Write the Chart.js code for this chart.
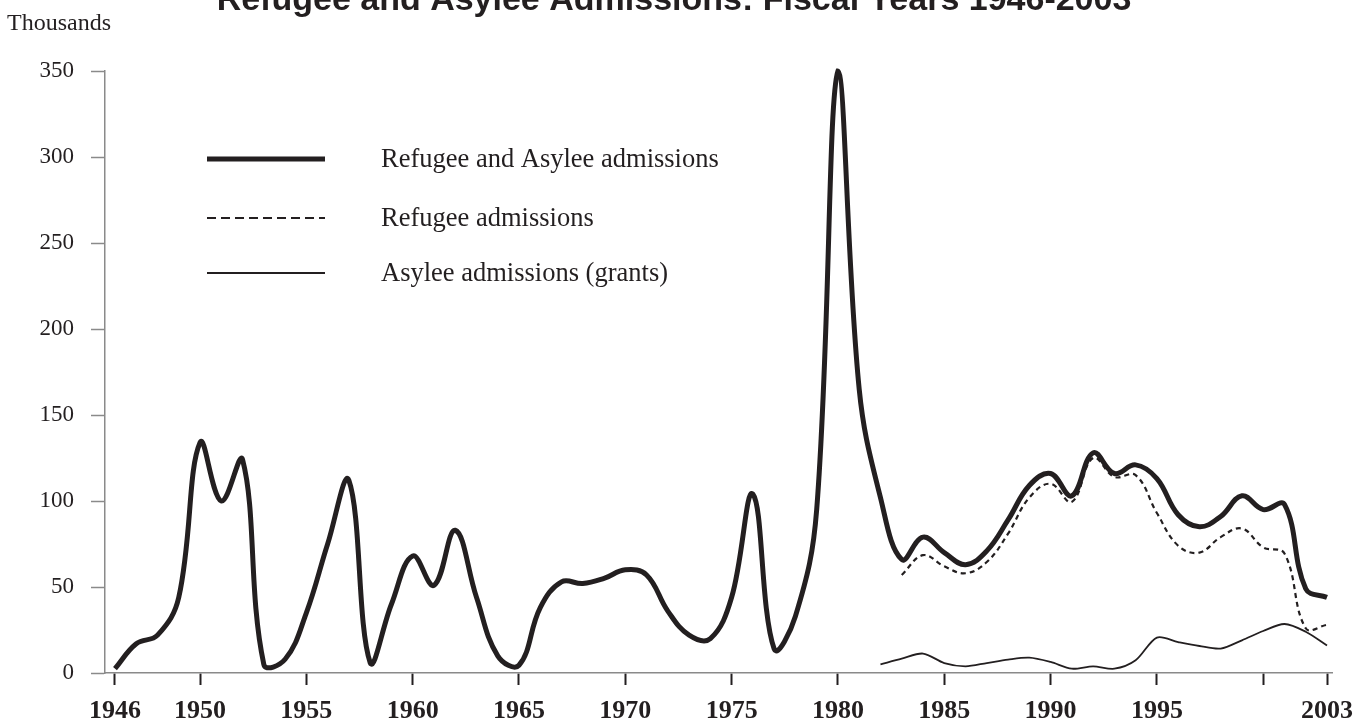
<!DOCTYPE html>
<html>
<head>
<meta charset="utf-8">
<script src="https://cdn.jsdelivr.net/npm/chart.js@4.4.1/dist/chart.umd.min.js"></script>
<style>
  html, body { margin: 0; padding: 0; background: #fff; }
  #chart { display: block; }
</style>
</head>
<body>
<canvas id="chart" width="1367" height="728"></canvas>
<script>
// Fiscal years on the x axis
const years = [
  1946, 1947, 1948, 1949, 1950, 1951, 1952, 1953, 1954, 1955,
  1956, 1957, 1958, 1959, 1960, 1961, 1962, 1963, 1964, 1965,
  1966, 1967, 1968, 1969, 1970, 1971, 1972, 1973, 1974, 1975,
  1976, 1977, 1978, 1979, 1980, 1981, 1982, 1983, 1984, 1985,
  1986, 1987, 1988, 1989, 1990, 1991, 1992, 1993, 1994, 1995,
  1996, 1997, 1998, 1999, 2000, 2001, 2002, 2003,
];

// Admissions in thousands
const totalAdmissions = [
  2.5, 17, 22, 44, 134, 100, 124, 5, 8, 35,
  75, 112, 6, 40, 68, 51, 83, 44, 10, 4.5,
  38, 53, 52, 55, 60, 57, 36, 22, 20, 44,
  104, 14, 33, 95, 350, 165, 102, 66, 79, 70,
  63, 71, 89, 109, 116, 103, 128, 116, 121, 113,
  92, 85, 91, 103, 95, 98, 49, 44,
];
const refugeeYears = [
  1983, 1984, 1985, 1986, 1987, 1988, 1989, 1990, 1991, 1992, 1993,
  1994, 1995, 1996, 1997, 1998, 1999, 2000, 2001, 2002, 2003,
];
const refugeeAdmissions = [
  57, 68.5, 62, 58, 64.5, 81, 102, 110, 99.5, 125, 114,
  115, 93, 74, 70, 79, 84, 73, 69.5, 26, 28,
];
const asyleeYears = [
  1982, 1983, 1984, 1985, 1986, 1987, 1988, 1989, 1990, 1991, 1992,
  1993, 1994, 1995, 1996, 1997, 1998, 1999, 2000, 2001, 2002, 2003,
];
const asyleeAdmissions = [
  5, 8.3, 11.3, 5.8, 3.9, 5.8, 7.8, 8.9, 6.4, 2.5, 3.9,
  2.5, 7.4, 20.6, 18, 15.7, 14.2, 19, 24.4, 28.5, 24, 16,
];

// Tick labels
const xTickYears = [1946, 1950, 1955, 1960, 1965, 1970, 1975, 1980, 1985, 1990, 1995, 2000, 2003];
const xTickLabels = ["1946", "1950", "1955", "1960", "1965", "1970", "1975", "1980", "1985", "1990", "1995", "", "2003"];
const yTicks = [0, 50, 100, 150, 200, 250, 300, 350];

const seriesNames = [
  "Refugee and Asylee admissions",
  "Refugee admissions",
  "Asylee admissions (grants)",
];

const ink = "#231f20";
const axisGray = "#8a8a8a";

const toPoints = (xs, ys) => xs.map((x, i) => ({ x: x, y: ys[i] }));

// Title, unit label and in-plot legend
const decorations = {
  id: "decorations",
  afterDraw(chart) {
    const ctx = chart.ctx;
    ctx.save();
    ctx.fillStyle = ink;
    ctx.textBaseline = "alphabetic";

    ctx.font = "bold 34px 'Liberation Sans', Arial, sans-serif";
    ctx.textAlign = "center";
    ctx.fillText("Refugee and Asylee Admissions: Fiscal Years 1946-2003", 674, 10);

    ctx.font = "24px 'Liberation Serif', 'Times New Roman', serif";
    ctx.textAlign = "left";
    ctx.fillText("Thousands", 7, 30);

    const rows = [159, 218, 273];
    chart.data.datasets.forEach((ds, i) => {
      const y = rows[i];
      ctx.beginPath();
      ctx.lineWidth = ds.borderWidth;
      ctx.strokeStyle = ds.borderColor;
      ctx.setLineDash(ds.borderDash && ds.borderDash.length ? [9, 5] : []);
      ctx.moveTo(207, y);
      ctx.lineTo(325, y);
      ctx.stroke();
      ctx.setLineDash([]);
      ctx.font = "26.5px 'Liberation Serif', 'Times New Roman', serif";
      ctx.textBaseline = "middle";
      ctx.fillText(ds.label, 381, y + 1);
    });
    ctx.restore();
  },
};

new Chart(document.getElementById("chart"), {
  type: "line",
  data: {
    datasets: [
      {
        label: seriesNames[0],
        data: toPoints(years, totalAdmissions),
        borderColor: ink,
        borderWidth: 5,
        tension: 0.4,
        pointRadius: 0,
        clip: false,
      },
      {
        label: seriesNames[1],
        data: toPoints(refugeeYears, refugeeAdmissions),
        borderColor: ink,
        borderWidth: 2.2,
        borderDash: [5, 4],
        tension: 0.4,
        pointRadius: 0,
        clip: false,
      },
      {
        label: seriesNames[2],
        data: toPoints(asyleeYears, asyleeAdmissions),
        borderColor: ink,
        borderWidth: 1.8,
        tension: 0.3,
        pointRadius: 0,
        clip: false,
      },
    ],
  },
  options: {
    responsive: false,
    animation: false,
    devicePixelRatio: 1,
    layout: { padding: { top: 71, right: 35, bottom: 0, left: 0 } },
    plugins: {
      legend: { display: false },
      title: { display: false },
      tooltip: { enabled: false },
    },
    scales: {
      x: {
        type: "linear",
        min: 1945.53,
        max: 2003.235,
        afterBuildTicks: (scale) => {
          scale.ticks = xTickYears.map((v) => ({ value: v }));
        },
        afterFit: (scale) => {
          scale.height = 55;
        },
        border: { color: axisGray, width: 1.5 },
        grid: {
          drawOnChartArea: false,
          drawTicks: true,
          tickLength: 12,
          tickColor: ink,
          tickWidth: 2,
        },
        ticks: {
          autoSkip: false,
          maxRotation: 0,
          padding: 11,
          color: ink,
          font: { family: "'Liberation Serif', 'Times New Roman', serif", size: 26, weight: "bold" },
          callback: (value) => xTickLabels[xTickYears.indexOf(value)],
        },
      },
      y: {
        min: 0,
        max: 350,
        afterBuildTicks: (scale) => {
          scale.ticks = yTicks.map((v) => ({ value: v }));
        },
        afterFit: (scale) => {
          scale.width = 105;
        },
        border: { color: axisGray, width: 1.5 },
        grid: {
          drawOnChartArea: false,
          drawTicks: true,
          tickLength: 14,
          tickColor: axisGray,
          tickWidth: 1.5,
        },
        ticks: {
          padding: 17,
          color: ink,
          font: { family: "'Liberation Serif', 'Times New Roman', serif", size: 23 },
        },
      },
    },
  },
  plugins: [decorations],
});
</script>
</body>
</html>
